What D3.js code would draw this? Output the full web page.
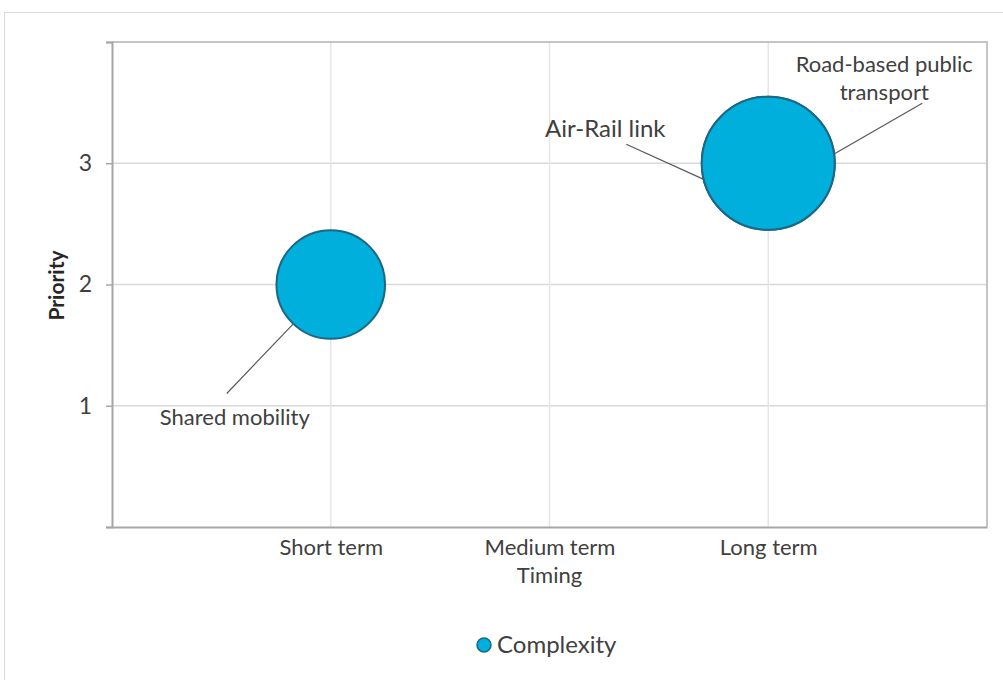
<!DOCTYPE html>
<html>
<head>
<meta charset="utf-8">
<script src="https://cdn.jsdelivr.net/npm/d3@7"></script>
<style>
  html, body { margin: 0; padding: 0; background: #ffffff; }
  svg { display: block; font-family: Lato, "Open Sans", sans-serif; }
</style>
</head>
<body>
<svg id="chart" width="1003" height="680"></svg>
<script>
// Timing categories along the x axis (positions 1..3)
const timingCategories = ["Short term", "Medium term", "Long term"];
// Priority tick values on the y axis
const priorityTicks = [0, 1, 2, 3, 4];
const priorityLabels = ["", "1", "2", "3", ""];

// Projects: name, timing index (1-based), priority, complexity (bubble size)
const projectNames = ["Shared mobility", "Air-Rail link", "Road-based public transport"];
const projectTiming = [1, 3, 3];
const projectPriority = [2, 3, 3];
const projectComplexity = [2, 3, 3];

// Label placement around each bubble (pixel offsets from bubble centre)
const labelLines = [["Shared mobility"], ["Air-Rail link"], ["Road-based public", "transport"]];
const labelDx = [-96, -163, 116];
const labelDy = [140, -26, -91];
const labelSize = [22, 24, 22];
const leaderStart = [[-104, 109], [-142, -19], [154, -60]];
const leaderAngle = [133.6, 166, -8];

const svg = d3.select("#chart");
const margin = { left: 112, top: 42, right: 1003 - 987, bottom: 680 - 527 };
const width = 1003 - margin.left - margin.right;
const height = 680 - margin.top - margin.bottom;

// Outer chart frame
svg.append("rect")
  .attr("x", 4.5).attr("y", 12.5)
  .attr("width", 1010).attr("height", 700)
  .attr("fill", "none").attr("stroke", "#d9d9d9").attr("stroke-width", 1);

const g = svg.append("g").attr("transform", `translate(${margin.left},${margin.top})`);

const x = d3.scaleLinear().domain([0, 4]).range([0, width]);
const y = d3.scaleLinear().domain([0, 4]).range([height, 0]);
const r = d3.scaleSqrt().domain([0, 3]).range([0, 66.5]);

const textColor = "#404040";

// Gridlines
g.append("g").selectAll("line.hgrid")
  .data([1, 2, 3]).join("line")
  .attr("x1", 0).attr("x2", width)
  .attr("y1", d => y(d)).attr("y2", d => y(d))
  .attr("stroke", "#d9d9d9").attr("stroke-width", 1.5);
g.append("g").selectAll("line.vgrid")
  .data([1, 2, 3]).join("line")
  .attr("x1", d => x(d)).attr("x2", d => x(d))
  .attr("y1", 0).attr("y2", height)
  .attr("stroke", "#e6e6e6").attr("stroke-width", 1.5);

// Plot area border (top and right)
g.append("path")
  .attr("d", `M0,0H${width}V${height}`)
  .attr("fill", "none").attr("stroke", "#c4c4c4").attr("stroke-width", 2);

// Y axis
const yAxis = g.append("g")
  .call(d3.axisLeft(y).tickValues(priorityTicks).tickSize(6).tickPadding(14)
    .tickFormat((d, i) => priorityLabels[i]));
yAxis.select(".domain").attr("stroke", "#a6a6a6").attr("stroke-width", 2);
yAxis.selectAll(".tick line").attr("stroke", "#a6a6a6").attr("stroke-width", 1.5);
yAxis.selectAll(".tick text")
  .attr("fill", textColor).attr("font-size", 23).attr("font-family", "Lato, sans-serif");

// X axis (category labels, no tick marks)
const xAxis = g.append("g").attr("transform", `translate(0,${height})`)
  .call(d3.axisBottom(x).tickValues([1, 2, 3]).tickSize(0).tickPadding(12)
    .tickFormat((d, i) => timingCategories[i]));
xAxis.select(".domain").attr("stroke", "#a6a6a6").attr("stroke-width", 2);
xAxis.selectAll(".tick text")
  .attr("fill", textColor).attr("font-size", 22).attr("font-family", "Lato, sans-serif");

// Axis titles
g.append("text")
  .attr("x", x(2)).attr("y", height + 56)
  .attr("text-anchor", "middle")
  .attr("fill", textColor).attr("font-size", 22)
  .text("Timing");
svg.append("text")
  .attr("transform", "translate(64,285.5) rotate(-90)")
  .attr("text-anchor", "middle")
  .attr("fill", "#262626").attr("font-size", 21).attr("font-weight", "bold")
  .text("Priority");

// Bubbles
const data = projectNames.map((name, i) => ({
  name,
  timing: projectTiming[i],
  priority: projectPriority[i],
  complexity: projectComplexity[i],
  lines: labelLines[i],
  dx: labelDx[i], dy: labelDy[i], size: labelSize[i],
  start: leaderStart[i], angle: leaderAngle[i]
}));

g.append("g").selectAll("circle")
  .data(data).join("circle")
  .attr("cx", d => x(d.timing))
  .attr("cy", d => y(d.priority))
  .attr("r", d => r(d.complexity))
  .attr("fill", "#00afdb")
  .attr("stroke", "#1b6784")
  .attr("stroke-width", 2);

// Leader lines
g.append("g").selectAll("line")
  .data(data).join("line")
  .attr("x1", d => x(d.timing) + d.start[0])
  .attr("y1", d => y(d.priority) + d.start[1])
  .attr("x2", d => x(d.timing) + r(d.complexity) * Math.cos(d.angle * Math.PI / 180))
  .attr("y2", d => y(d.priority) + r(d.complexity) * Math.sin(d.angle * Math.PI / 180))
  .attr("stroke", "#595959").attr("stroke-width", 1.2);

// Data labels
const labels = g.append("g").selectAll("text")
  .data(data).join("text")
  .attr("text-anchor", "middle")
  .attr("fill", textColor)
  .attr("font-size", d => d.size)
  .attr("transform", d => `translate(${x(d.timing) + d.dx},${y(d.priority) + d.dy})`);
labels.selectAll("tspan")
  .data(d => d.lines).join("tspan")
  .attr("x", 0).attr("y", (d, i) => i * 28)
  .text(d => d);

// Legend
const legend = svg.append("g").attr("transform", "translate(484,645)");
legend.append("circle").attr("r", 7)
  .attr("fill", "#00afdb").attr("stroke", "#1b6784").attr("stroke-width", 1.5);
legend.append("text").attr("x", 13).attr("y", 8)
  .attr("fill", textColor).attr("font-size", 24)
  .text("Complexity");
</script>
</body>
</html>
